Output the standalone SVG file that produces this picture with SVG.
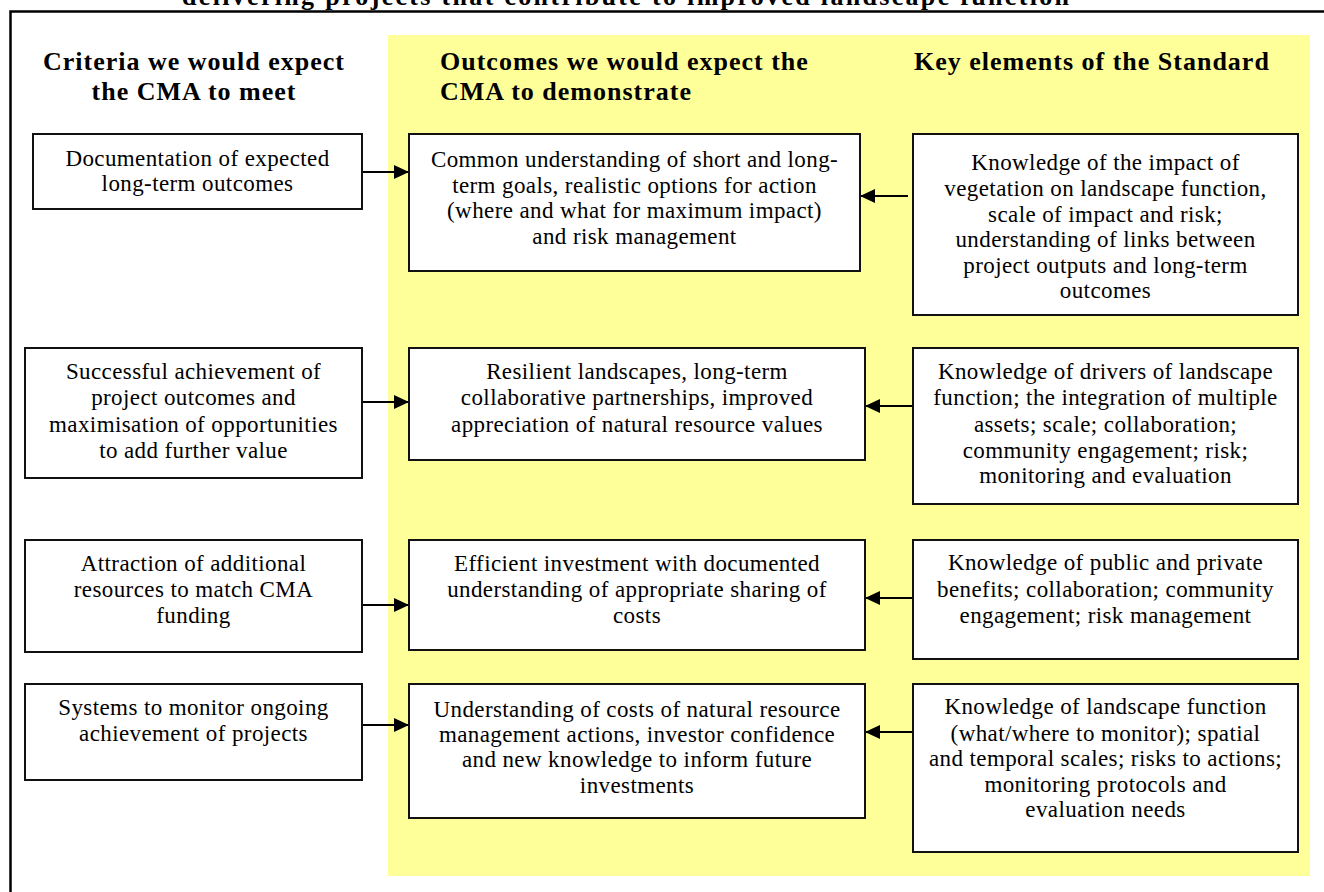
<svg xmlns="http://www.w3.org/2000/svg" width="1324" height="892" viewBox="0 0 1324 892">
<style>
.bg{fill:#ffffff}
.panel{fill:#ffff99}
.frame{fill:none;stroke:#000;stroke-width:2.5}
.box{fill:#fff;stroke:#111;stroke-width:2}
.t{font-family:"Liberation Serif","Times New Roman",serif;font-size:23px;letter-spacing:0.4px;fill:#000;text-anchor:middle}
.h{font-family:"Liberation Serif","Times New Roman",serif;font-size:26px;font-weight:bold;letter-spacing:1px;fill:#000}
.c{text-anchor:middle}
.conn{stroke:#000;stroke-width:2;fill:none}
</style>
<defs>
<marker id="ah" markerUnits="userSpaceOnUse" markerWidth="16" markerHeight="14" refX="15" refY="7" orient="auto">
<path d="M0,0 L15,7 L0,14 Z" fill="#000"/>
</marker>
</defs>
<rect class="bg" x="0" y="0" width="1324" height="892"/>
<text class="h c" x="626" y="5" textLength="888">delivering projects that contribute to improved landscape function</text>
<path class="frame" d="M10.5,892 L10.5,11.5 L1324,11.5"/>
<rect class="panel" x="388" y="35" width="922" height="841"/>
<g id="headers">
<text class="h c" x="194" y="70">Criteria we would expect</text>
<text class="h c" x="194" y="100">the CMA to meet</text>
<text class="h" x="440" y="70">Outcomes we would expect the</text>
<text class="h" x="440" y="100">CMA to demonstrate</text>
<text class="h" x="914" y="70">Key elements of the Standard</text>
</g>
<g id="connectors">
<line class="conn" x1="362" y1="172" x2="409" y2="172" marker-end="url(#ah)"/>
<line class="conn" x1="362" y1="402" x2="409" y2="402" marker-end="url(#ah)"/>
<line class="conn" x1="362" y1="605" x2="409" y2="605" marker-end="url(#ah)"/>
<line class="conn" x1="362" y1="725" x2="409" y2="725" marker-end="url(#ah)"/>
<line class="conn" x1="908" y1="196" x2="860" y2="196" marker-end="url(#ah)"/>
<line class="conn" x1="913" y1="406" x2="865" y2="406" marker-end="url(#ah)"/>
<line class="conn" x1="913" y1="598" x2="865" y2="598" marker-end="url(#ah)"/>
<line class="conn" x1="913" y1="732" x2="865" y2="732" marker-end="url(#ah)"/>
</g>
<g id="crit1">
<rect class="box" x="33" y="134" width="329" height="75"/>
<text class="t" x="197.5" y="166">Documentation of expected</text>
<text class="t" x="197.5" y="191">long-term outcomes</text>
</g>
<g id="crit2">
<rect class="box" x="25" y="348" width="337" height="130"/>
<text class="t" x="193.5" y="379">Successful achievement of</text>
<text class="t" x="193.5" y="405">project outcomes and</text>
<text class="t" x="193.5" y="432">maximisation of opportunities</text>
<text class="t" x="193.5" y="458">to add further value</text>
</g>
<g id="crit3">
<rect class="box" x="25" y="540" width="337" height="112"/>
<text class="t" x="193.5" y="571">Attraction of additional</text>
<text class="t" x="193.5" y="597">resources to match CMA</text>
<text class="t" x="193.5" y="623">funding</text>
</g>
<g id="crit4">
<rect class="box" x="25" y="684" width="337" height="96"/>
<text class="t" x="193.5" y="715">Systems to monitor ongoing</text>
<text class="t" x="193.5" y="741">achievement of projects</text>
</g>
<g id="out1">
<rect class="box" x="409" y="134" width="451" height="137"/>
<text class="t" x="634.5" y="167">Common understanding of short and long-</text>
<text class="t" x="634.5" y="193">term goals, realistic options for action</text>
<text class="t" x="634.5" y="218">(where and what for maximum impact)</text>
<text class="t" x="634.5" y="244">and risk management</text>
</g>
<g id="out2">
<rect class="box" x="409" y="348" width="456" height="112"/>
<text class="t" x="637" y="379">Resilient landscapes, long-term</text>
<text class="t" x="637" y="405">collaborative partnerships, improved</text>
<text class="t" x="637" y="432">appreciation of natural resource values</text>
</g>
<g id="out3">
<rect class="box" x="409" y="540" width="456" height="110"/>
<text class="t" x="637" y="571">Efficient investment with documented</text>
<text class="t" x="637" y="597">understanding of appropriate sharing of</text>
<text class="t" x="637" y="623">costs</text>
</g>
<g id="out4">
<rect class="box" x="409" y="684" width="456" height="134"/>
<text class="t" x="637" y="717">Understanding of costs of natural resource</text>
<text class="t" x="637" y="742">management actions, investor confidence</text>
<text class="t" x="637" y="767">and new knowledge to inform future</text>
<text class="t" x="637" y="793">investments</text>
</g>
<g id="key1">
<rect class="box" x="913" y="134" width="385" height="181"/>
<text class="t" x="1105.5" y="170">Knowledge of the impact of</text>
<text class="t" x="1105.5" y="196">vegetation on landscape function,</text>
<text class="t" x="1105.5" y="222">scale of impact and risk;</text>
<text class="t" x="1105.5" y="247">understanding of links between</text>
<text class="t" x="1105.5" y="273">project outputs and long-term</text>
<text class="t" x="1105.5" y="298">outcomes</text>
</g>
<g id="key2">
<rect class="box" x="913" y="348" width="385" height="156"/>
<text class="t" x="1105.5" y="379">Knowledge of drivers of landscape</text>
<text class="t" x="1105.5" y="405">function; the integration of multiple</text>
<text class="t" x="1105.5" y="432">assets; scale; collaboration;</text>
<text class="t" x="1105.5" y="458">community engagement; risk;</text>
<text class="t" x="1105.5" y="483">monitoring and evaluation</text>
</g>
<g id="key3">
<rect class="box" x="913" y="540" width="385" height="119"/>
<text class="t" x="1105.5" y="570">Knowledge of public and private</text>
<text class="t" x="1105.5" y="597">benefits; collaboration; community</text>
<text class="t" x="1105.5" y="623">engagement; risk management</text>
</g>
<g id="key4">
<rect class="box" x="913" y="684" width="385" height="168"/>
<text class="t" x="1105.5" y="714">Knowledge of landscape function</text>
<text class="t" x="1105.5" y="741">(what/where to monitor); spatial</text>
<text class="t" x="1105.5" y="766">and temporal scales; risks to actions;</text>
<text class="t" x="1105.5" y="792">monitoring protocols and</text>
<text class="t" x="1105.5" y="817">evaluation needs</text>
</g>
</svg>
